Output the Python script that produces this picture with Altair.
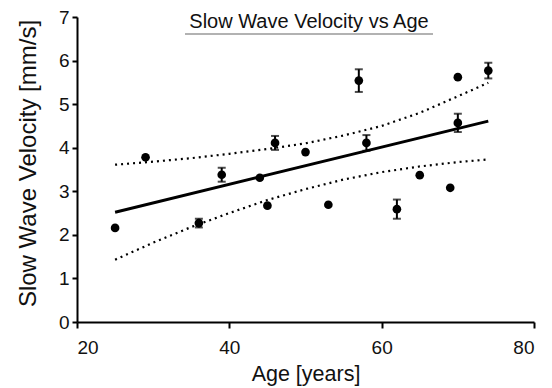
import altair as alt
import pandas as pd

# --- data ---
ages = [25, 29, 36, 39, 44, 45, 46, 50, 53, 57, 58, 62, 65, 69, 70, 70, 74]
velocity = [2.16, 3.78, 2.27, 3.38, 3.31, 2.67, 4.11, 3.90, 2.69, 5.54, 4.11, 2.59, 3.37, 3.08, 5.62, 4.57, 5.77]
errors = [0, 0, 0.10, 0.16, 0, 0, 0.16, 0, 0, 0.26, 0.18, 0.22, 0, 0, 0, 0.21, 0.18]

fit_x = [25, 74]
fit_y = [2.52, 4.61]

ci_x = [25, 30, 35, 40, 45, 50, 55, 60, 65, 70, 74]
ci_upper = [3.61, 3.68, 3.76, 3.86, 3.97, 4.10, 4.28, 4.50, 4.80, 5.18, 5.49]
ci_lower = [1.43, 1.82, 2.18, 2.50, 2.80, 3.05, 3.27, 3.44, 3.57, 3.67, 3.73]

x_ticks = [20, 40, 60, 80]
y_ticks = [0, 1, 2, 3, 4, 5, 6, 7]

title_text = "Slow Wave Velocity vs Age"
x_title = "Age [years]"
y_title = "Slow Wave Velocity [mm/s]"

FONT = "Liberation Sans"

pts = pd.DataFrame({"age": ages, "vel": velocity, "err": errors})
pts["lo"] = pts["vel"] - pts["err"]
pts["hi"] = pts["vel"] + pts["err"]
bars = pts[pts["err"] > 0]

fit = pd.DataFrame({"age": fit_x, "vel": fit_y})
ci = pd.concat([
    pd.DataFrame({"age": ci_x, "vel": ci_upper, "band": "upper"}),
    pd.DataFrame({"age": ci_x, "vel": ci_lower, "band": "lower"}),
])

xs = alt.Scale(domain=[20, 80], nice=False, zero=False)
ys = alt.Scale(domain=[0, 7], nice=False)

x_axis = alt.Axis(values=x_ticks, title=x_title, grid=False, domainColor="black", domainWidth=2,
                  tickColor="black", tickWidth=2, tickSize=6, labelFont=FONT, labelFontSize=19,
                  labelColor="#111", labelPadding=10, titleFont=FONT, titleFontSize=21.5,
                  titleFontWeight="normal", titleColor="#111", titlePadding=6)
y_axis = alt.Axis(values=y_ticks, title=y_title, grid=False, domainColor="black", domainWidth=2,
                  tickColor="black", tickWidth=2, tickSize=5, labelFont=FONT, labelFontSize=19,
                  labelColor="#111", labelPadding=3, titleFont=FONT, titleFontSize=24,
                  titleFontWeight="normal", titleColor="#111", titlePadding=18, titleY=146)

base_x = alt.X("age:Q", scale=xs, axis=x_axis)
base_y = alt.Y("vel:Q", scale=ys, axis=y_axis)

ci_layer = alt.Chart(ci).mark_line(color="black", strokeWidth=2.2, strokeDash=[2, 4]).encode(
    x=alt.X("age:Q", scale=xs), y=alt.Y("vel:Q", scale=ys), detail="band:N")

fit_layer = alt.Chart(fit).mark_line(color="black", strokeWidth=3).encode(
    x=alt.X("age:Q", scale=xs), y=alt.Y("vel:Q", scale=ys))

err_rule = alt.Chart(bars).mark_rule(color="black", strokeWidth=2).encode(
    x=alt.X("age:Q", scale=xs), y=alt.Y("lo:Q", scale=ys), y2="hi:Q")
cap_lo = alt.Chart(bars).mark_tick(color="black", thickness=2, size=8, orient="horizontal").encode(
    x=alt.X("age:Q", scale=xs), y=alt.Y("lo:Q", scale=ys))
cap_hi = alt.Chart(bars).mark_tick(color="black", thickness=2, size=8, orient="horizontal").encode(
    x=alt.X("age:Q", scale=xs), y=alt.Y("hi:Q", scale=ys))

points = alt.Chart(pts).mark_circle(color="black", opacity=1, size=75).encode(x=base_x, y=base_y)

title_df = pd.DataFrame({"t": [title_text]})
title_layer = alt.Chart(title_df).mark_text(font=FONT, fontSize=20, color="#111", baseline="alphabetic",
                                            align="center").encode(
    text="t:N", x=alt.value(232), y=alt.value(10.5))
underline = alt.Chart(title_df).mark_rule(color="#999", strokeWidth=1.5).encode(
    x=alt.value(108), x2=alt.value(356), y=alt.value(17))

chart = alt.layer(points, ci_layer, fit_layer, err_rule, cap_lo, cap_hi, title_layer, underline).properties(
    width=457, height=305,
    autosize=alt.AutoSizeParams(type="none"),
    padding={"left": 77, "top": 17, "right": 18, "bottom": 66},
    background="white",
).configure_view(stroke=None)

chart.save("out.html", embed_options={"renderer": "svg", "actions": False})
